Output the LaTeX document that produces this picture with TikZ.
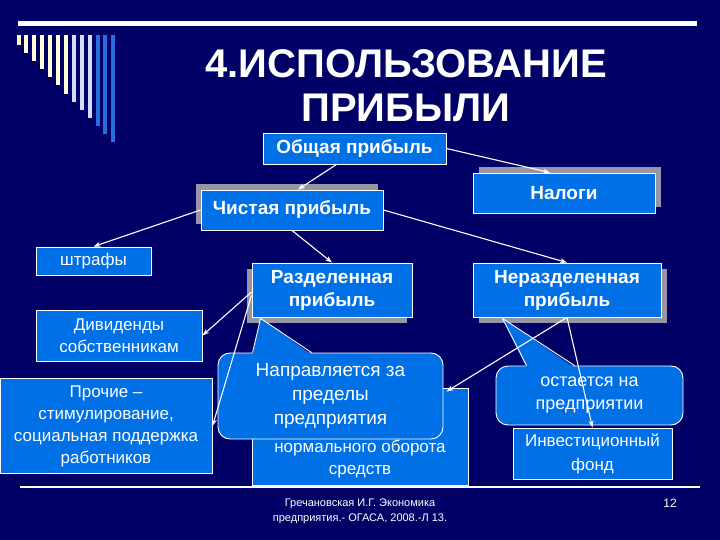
\documentclass[tikz,border=0pt]{standalone}
\usepackage{fontspec}
\setmainfont{Liberation Sans}
\usepackage{tikz}
\usetikzlibrary{calc,arrows.meta,positioning,shadows}

\definecolor{slidebg}{RGB}{0,0,102}
\definecolor{boxblue}{RGB}{0,112,230}
\definecolor{shadowgray}{RGB}{150,150,165}
\definecolor{barcream}{RGB}{255,255,210}
\definecolor{barlilac}{RGB}{215,220,250}
\definecolor{barblue}{RGB}{40,110,225}

\begin{document}
\begin{tikzpicture}[
    x=1pt,
    y=-1pt,
    >={Stealth[length=7pt,width=5pt]},
    bluebox/.style={draw=white,line width=0.9pt,fill=boxblue,text=white,
        align=center,inner sep=0pt,font=\fontsize{17}{22}\selectfont},
    boldbox/.style={bluebox,font=\fontsize{19}{23}\selectfont\bfseries},
    boxshadow/.style 2 args={general shadow={fill=shadowgray,draw=none,
        shadow xshift=#1,shadow yshift=#2}},
    bubble/.style={bluebox,rounded corners=12pt},
    pointeredge/.style={draw=white,line width=0.9pt},
    conn/.style={->,draw=white,line width=1.1pt},
    plaintext/.style={text=white,align=center,inner sep=0pt}
]

% ---------------------------------------------------------
% Slide background
% ---------------------------------------------------------

\fill[slidebg] (0,0) rectangle (720,540);
\useasboundingbox (0,0) rectangle (720,540);

% top rule with the row of bars
\fill[white] (18,21) rectangle (697,26);

\foreach \col [count=\i from 0] in
    {barcream,barcream,barcream,barcream,barcream,barcream,barcream,
     barlilac,barlilac,barlilac,barblue,barblue,barblue}
    \fill[\col] (16.5+7.9*\i,35) rectangle ++(4,10+8.1*\i);

% ---------------------------------------------------------
% Title
% ---------------------------------------------------------

\node[plaintext,font=\fontsize{40}{44}\selectfont\bfseries]
    (title) at (406,86) {4.ИСПОЛЬЗОВАНИЕ\\ПРИБЫЛИ};

% ---------------------------------------------------------
% Boxes
% ---------------------------------------------------------

\node[boldbox,minimum width=183pt,minimum height=31pt]
    (total) at (354.5,148.5) {Общая прибыль};

\node[boldbox,boxshadow={-5pt}{6pt},minimum width=182pt,minimum height=40pt]
    (net) at (292,210) {Чистая прибыль};

\node[boldbox,boxshadow={6pt}{6pt},minimum width=182pt,minimum height=40pt]
    (taxes) at (564,193) {Налоги};

\node[bluebox,minimum width=115pt,minimum height=28pt]
    (fines) at (93.5,261) {штрафы};

\node[boldbox,boxshadow={-5pt}{-6pt},minimum width=160pt,minimum height=54pt]
    (distr) at (332,290) {Разделенная\\прибыль};

\node[boldbox,boxshadow={6pt}{-6pt},minimum width=188pt,minimum height=54pt]
    (retain) at (567,290) {Неразделенная\\прибыль};

\node[bluebox,minimum width=166pt,minimum height=51pt]
    (divid) at (119,335.5) {Дивиденды\\собственникам};

\node[bluebox,minimum width=212pt,minimum height=95pt]
    (other) at (106,426)
    {Прочие –\\стимулирование,\\социальная поддержка\\работников};

% box partly hidden by the callout
\node[bluebox,minimum width=216pt,minimum height=97pt]
    (reserve) at (360,436.5) {};
\node[plaintext,font=\fontsize{17}{22}\selectfont,anchor=south]
    (reservetext) at ([yshift=7pt]reserve.south)
    {нормального оборота\\средств};

\node[bluebox,minimum width=159pt,minimum height=51pt,
      font=\fontsize{17}{24}\selectfont]
    (invest) at (592.5,453.5) {Инвестиционный\\фонд};

% ---------------------------------------------------------
% Callouts
% ---------------------------------------------------------

\node[bubble,minimum width=225pt,minimum height=86pt,
      font=\fontsize{19}{24}\selectfont]
    (abroad) at (330.5,396) {Направляется за\\пределы\\предприятия};

\fill[boxblue]
    ($(distr.south west)+(9,1)$)
    -- ($(abroad.north west)+(35,2)$)
    -- ($(abroad.north west)+(94,2)$)
    -- cycle;
\draw[pointeredge]
    ($(abroad.north west)+(35,0)$)
    -- ($(distr.south west)+(9,1)$)
    -- ($(abroad.north west)+(94,0)$);

\node[bubble,minimum width=187pt,minimum height=59pt,
      font=\fontsize{18}{23}\selectfont]
    (stays) at (589.5,395.5) {остается на\\предприятии};

\fill[boxblue]
    ($(retain.south west)+(30,1)$)
    -- ($(stays.north west)+(31,2)$)
    -- ($(stays.north west)+(79,2)$)
    -- cycle;
\draw[pointeredge]
    ($(stays.north west)+(31,0)$)
    -- ($(retain.south west)+(30,1)$)
    -- ($(stays.north west)+(79,0)$);

% ---------------------------------------------------------
% Connectors
% ---------------------------------------------------------

\draw[conn] ([xshift=-18pt]total.south) -- ([xshift=6pt]net.north);
\draw[conn] (total.east) -- ([xshift=-14pt]taxes.north);

\draw[conn] (net.west) -- (fines.north);
\draw[conn] (net.south) -- (distr.north);
\draw[conn] (net.east) -- (retain.north);

\draw[conn] ([yshift=-2pt]distr.west) -- (divid.east);
\draw[conn] ([yshift=-5pt]distr.west) -- (other.east);

\draw[conn] (retain.south) -- ($(reserve.north east)+(-22,4)$);
\draw[conn] (retain.south) -- (invest.north);

% ---------------------------------------------------------
% Footer
% ---------------------------------------------------------

\draw[white,line width=1.5pt] (20,487) -- (700,487);

\node[plaintext,font=\fontsize{11}{15}\selectfont]
    (source) at (360,511)
    {Гречановская И.Г. Экономика\\предприятия.- ОГАСА, 2008.-Л 13.};

\node[plaintext,font=\fontsize{12}{14}\selectfont]
    (pagenum) at (670,503) {12};

\end{tikzpicture}
\end{document}
